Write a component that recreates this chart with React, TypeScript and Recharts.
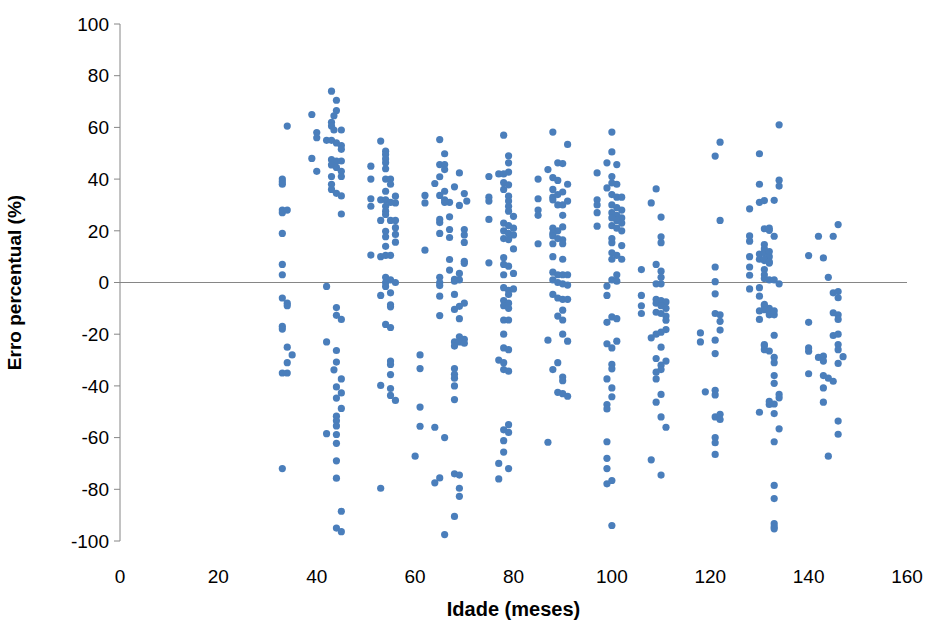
import React from "react";
import {
  ScatterChart,
  Scatter,
  XAxis,
  YAxis,
  ReferenceLine,
  Label,
} from "recharts";

// [idade (meses), erro percentual (%)], grouped by age cluster
const grupo33: number[][] = [
  [33, 40], [33, 39], [33, 38], [33, 28], [33, 27], [34, 28], [33, 19], [33, 7], [33, 3],
  [33, -6], [34, -8], [34, -9], [33, -17], [33, -18], [34, -25], [34, -31], [33, -35],
  [34, -35], [33, -72], [34, 60.5], [35, -28],
];

const grupo43: number[][] = [
  [39, 65], [40, 58], [40, 56], [39, 48], [40, 43], [42, -1.5],
  [43, 74], [44, 70.5], [44, 66.5], [43.5, 64.5], [43, 62], [43, 60.5], [43.5, 59], [45, 59],
  [42, 55], [43, 55], [44, 54], [45, 53], [45, 51.5], [43, 47.5], [44, 47], [45, 47],
  [43, 45.5], [44, 44.5], [45, 43], [45, 41], [43, 41], [43, 38], [43, 36], [44, 34.5],
  [45, 33.5], [45, 26.5],
  [44, -9.7], [44, -12.7], [45, -14.3], [42, -23], [44, -26.3], [44, -30.8], [43.5, -33.8],
  [45, -37.3], [44, -40.4], [45, -42.7], [44, -44.7], [45, -48.7], [44, -51.7], [44, -53.5],
  [44, -55.5], [44, -58.8], [42, -58.5], [44, -62.2], [44, -69], [44, -75.7], [45, -88.5],
  [44, -95], [45, -96.4],
];

const grupo53: number[][] = [
  [53, 54.7], [54, 50.8], [54, 49.5], [54, 47.8], [54, 46.3], [54, 44], [51, 45], [51, 40],
  [54, 40], [55, 40], [55, 38], [54, 35.3], [51, 32.4], [51, 29.5], [53, 32], [54, 32],
  [55, 31], [56, 33.4], [54, 29.5], [56, 30.8], [54, 27.6], [54, 26.3], [53, 24], [55, 24],
  [56, 24], [56, 21.2], [56, 18.6], [56, 15.6], [54, 19.8], [54, 17.7], [54, 14], [51, 10.6],
  [53, 10], [54, 10.5], [55, 10.5], [54, 2], [55, 1], [56, 0],
  [54, 0], [54, -1.5], [53, -5], [55, -4], [55, -8.6], [55, -9.4], [54, -16.2], [55, -17.4],
  [55, -30.4], [55, -31.7], [55, -35.6], [53, -39.8], [55, -41], [55, -43.7], [56, -45.6],
  [53, -79.6],
];

const grupo65: number[][] = [
  [65, 55.3], [66, 49.8], [65, 45.6], [66, 45.6], [66, 43.7], [69, 42.4], [64, 38.3],
  [65, 40.9], [65, 33.7], [66, 35.3], [66, 32], [67, 31], [66, 31], [68, 37], [70, 34.4],
  [70.5, 31.5], [62, 33.7], [62, 30.8], [69, 29.8], [65, 24.4], [65, 23.2], [67, 25.4],
  [65, 19], [67, 20.5], [67, 17.4], [70, 20.5], [70, 18.4], [70, 15.5], [62, 12.5], [67, 8.9],
  [70, 8.2], [70, 7.4], [67, 4.8], [69, 3.5], [65, 2], [65, 0], [68, 1.2], [69, 1],
  [65, -1.2], [68, 0.5], [65, -5.3], [68, -4.6], [70, -8], [69, -9.2], [68, -10.4],
  [65, -12.8], [69, -14], [69, -21], [70, -22], [68, -23], [69, -23], [70, -23.5],
  [68, -24.6], [61, -28], [61, -33.3], [68, -33.3], [68, -35.5], [68, -37], [68, -40],
  [68, -45.3], [61, -48.2], [61, -55.6], [64, -56], [66, -60], [60, -67.2], [68, -74],
  [69, -74.5], [65, -75.6], [64, -77.5], [69, -79.6], [69, -82.7], [68, -90.5], [66, -97.5],
];

const grupo78: number[][] = [
  [78, 57], [79, 49], [79, 46.3], [79, 42.7], [77, 42], [78, 42], [75, 41], [78, 38.6],
  [79, 37.8], [78, 36], [79, 33.4], [79, 31.5], [79, 29.5], [79, 27.6], [75, 33], [75, 31.5],
  [80, 25.6], [75, 24.4], [78, 23], [79, 22], [80, 21], [78, 20], [79, 19], [80, 18.4],
  [78, 17], [79, 16.6], [80, 13], [78, 9.6], [78, 7], [79, 6.3], [75, 7.6], [80, 3.5], [78, 3],
  [78, -2], [79, -3], [80, -2.5], [79, -4.6], [78, -7], [79, -8], [78, -9], [79, -10],
  [78, -14.5], [79, -14.5], [78, -20], [78, -25.3], [79, -26], [77, -30], [78, -31],
  [78, -33.7], [79, -34.3], [79, -55], [78, -57], [79, -58], [78, -61.2], [78, -65.6],
  [77, -70], [79, -72], [77, -76],
];

const grupo89: number[][] = [
  [88, 58.2], [91, 53.4], [89, 46.3], [90, 46], [87, 43.7], [85, 40], [88, 40.6], [89, 39.5],
  [91, 38], [88, 36], [88, 33], [88, 32], [90, 35], [89, 34], [89, 30], [91, 31.5], [85, 32.4],
  [85, 28], [85, 26], [90, 30], [90, 26], [88, 21], [89, 20], [90, 21.5], [88, 19], [89, 17],
  [88, 18], [88, 15], [90, 16.5], [90, 15], [85, 15], [88, 10], [90, 9], [88, 4], [89, 3],
  [90, 3], [91, 3], [88, 1], [89, 0], [90, -0.5], [91, -1],
  [88, -4.6], [89, -6], [90, -6.5], [91, -6.5], [90, -10.7], [89, -13], [90, -14.5],
  [87, -22.3], [90, -20], [91, -22.7], [89, -31], [88, -33.7], [90, -36.6], [90, -38],
  [89, -42.5], [90, -43], [91, -44], [87, -61.8],
];

const grupo100: number[][] = [
  [100, 58.2], [100, 50.5], [99, 46.3], [101, 45.6], [97, 42.4], [100, 41], [101, 38],
  [100, 38.5], [99, 36.6], [100, 34], [101, 33], [102, 33], [97, 32], [97, 30], [97, 27],
  [97, 21.8], [100, 30], [101, 29], [102, 28], [100, 27], [101, 26], [102, 25], [100, 25],
  [101, 24], [102, 23], [100, 22], [101, 21], [102, 20], [100, 17], [100, 15.4], [102, 14.3],
  [100, 11.5], [101, 10.5], [100, 9], [102, 9], [101, 3], [100, 1], [101, 0.5], [99, -1.4],
  [99, -5], [99, -15.4], [100, -13.3], [101, -14], [99, -23.7], [100, -25.3], [101, -22.7],
  [100, -31.7], [100, -33.4], [99, -37.3], [100, -40.8], [100, -44.2], [99, -47.2],
  [99, -48.9], [99, -61.6], [99, -68], [99, -72], [99, -77.9], [100, -76.6], [100, -94],
];

const grupo109: number[][] = [
  [109, 36.2], [108, 30.8], [110, 25.3], [110, 17.7], [110, 15.4], [106, 5], [109, 7],
  [110, 4.4], [110, 2], [109, -0.5], [110, -0.5],
  [106, -5], [106, -9], [106, -12], [109, -6.5], [110, -7], [111, -7.5], [109, -8], [110, -9],
  [111, -10], [109, -11.5], [110, -12], [111, -13], [111, -14.6], [111, -18.2], [110, -19.2],
  [109, -20], [108, -21.4], [110, -25], [109, -29.4], [111, -30.4], [110, -32], [110, -33.7],
  [109, -34.7], [109, -37.3], [110, -43.3], [109, -46.3], [110, -52], [111, -56],
  [108, -68.6], [110, -74.5],
];

const grupo121: number[][] = [
  [122, 54.3], [121, 48.9], [122, 24], [121, 6], [121, 0.3], [121, -4.4], [121, -12],
  [122, -12.5], [122, -15], [122, -18.4], [118, -19.5], [118, -23], [121, -22.3],
  [121, -27.5], [119, -42.3], [121, -41.7], [121, -43.5], [121, -52], [122, -51], [122, -53],
  [121, -60], [121, -62], [121, -66.5],
];

const grupo131: number[][] = [
  [130, 49.8], [130, 38], [130, 31], [131, 31.7], [128, 28.5], [131, 20.8], [132, 20.2],
  [128, 18], [128, 16], [131, 14.7], [130, 11], [131, 11.5], [132, 10], [130, 9], [131, 8.5],
  [132, 7.5], [128, 10], [128, 6], [131, 5], [131, 3], [131, 1.5], [128, 2.8], [128, -2.5],
  [130, -2], [130, -5.3], [131, -8.5], [132, -10], [130, -11], [130, -14.3], [131, -24],
  [131, -26], [130, -50.2], [132, -47.2],
  [134, 61], [134, 39.6], [134, 37.3], [133, 31.8], [132, 21], [133, 17.9], [131, 13],
  [132, 12], [131, 9], [132, 8], [132, 1], [133, 1], [134, -0.5],
  [131, -9], [131, -10.5], [132, -11], [132, -12.5], [133, -12.5], [133, -11], [133, -20.4],
  [131, -24.5], [132, -26.5], [133, -29], [133, -31], [133, -36], [133, -39], [134, -43.3],
  [134, -44.6], [132, -46], [133, -47], [133, -50.7], [134, -56.6], [133, -61.6],
  [133, -78.5], [133, -83.6], [133, -93.3], [133, -94.5], [133, -95.3],
];

const grupo144: number[][] = [
  [146, 22.4], [142, 17.9], [145, 17.9], [140, 10.4], [143, 9.5], [144, 2], [145, -4],
  [146, -3.5], [146, -5.9], [140, -15.4], [145, -11.7], [146, -12.5], [146, -14.3],
  [140, -25.3], [140, -26.6], [142, -29], [143, -28.5], [143, -30.4], [145, -20.5],
  [146, -20], [146, -24], [146, -26], [147, -28.7], [146, -31.3], [140, -35.3], [143, -36],
  [144, -37], [145, -38.2], [143, -40.8], [143, -46.3], [146, -53.6], [146, -58.7],
  [144, -67.2],
];

const xTicks = [0, 20, 40, 60, 80, 100, 120, 140, 160];
const yTicks = [-100, -80, -60, -40, -20, 0, 20, 40, 60, 80, 100];

const grupos = [
  grupo33, grupo43, grupo53, grupo65, grupo78, grupo89,
  grupo100, grupo109, grupo121, grupo131, grupo144,
];

const data = grupos.flat().map(([idade, erro]) => ({ idade, erro }));

const FONT = "'Liberation Sans Narrow', 'Liberation Sans', Arial, sans-serif";
const AXIS = "#868686";
const DOT = "#4A7EBB";

const Dot = (props: any) => <circle cx={props.cx} cy={props.cy} r={3.6} fill={DOT} />;

export default function App() {
  return (
    <div style={{ position: "absolute", left: 0, top: 0, background: "#fff" }}>
      <ScatterChart
        width={934}
        height={625}
        margin={{ top: 24, right: 27, bottom: 0, left: 0 }}
      >
        <XAxis
          type="number"
          dataKey="idade"
          domain={[0, 160]}
          ticks={xTicks}
          height={84}
          axisLine={false}
          tickLine={false}
          tickSize={0}
          tickMargin={29}
          tick={{ fill: "#000", fontSize: 19, fontFamily: FONT }}
        >
          <Label
            value="Idade (meses)"
            position="insideBottom"
            offset={9}
            style={{ fill: "#000", fontSize: 20, fontWeight: "bold", fontFamily: FONT }}
          />
        </XAxis>
        <YAxis
          type="number"
          dataKey="erro"
          domain={[-100, 100]}
          ticks={yTicks}
          width={120}
          axisLine={{ stroke: AXIS }}
          tickLine={{ stroke: AXIS }}
          tickSize={6}
          tickMargin={5}
          tick={{ fill: "#000", fontSize: 19, fontFamily: FONT }}
        >
          <Label
            value="Erro percentual (%)"
            angle={-90}
            position="insideLeft"
            offset={14}
            style={{
              fill: "#000",
              fontSize: 19,
              fontWeight: "bold",
              fontFamily: FONT,
              textAnchor: "middle",
            }}
          />
        </YAxis>
        <ReferenceLine y={0} stroke={AXIS} strokeWidth={1} />
        <Scatter data={data} fill={DOT} shape={Dot} isAnimationActive={false} />
      </ScatterChart>
    </div>
  );
}
